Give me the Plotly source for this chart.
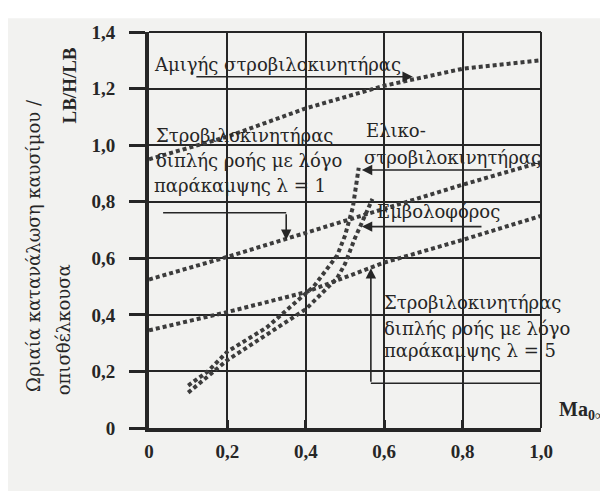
import plotly.graph_objects as go

# ---- data ----
x_turbojet = [0.0, 0.2, 0.4, 0.6, 0.8, 1.0]
y_turbojet = [0.95, 1.03, 1.13, 1.21, 1.27, 1.30]

x_fan1 = [0.0, 0.2, 0.4, 0.6, 0.8, 1.0]
y_fan1 = [0.525, 0.605, 0.69, 0.775, 0.86, 0.94]

x_fan5 = [0.0, 0.2, 0.4, 0.6, 0.8, 1.0]
y_fan5 = [0.345, 0.41, 0.48, 0.585, 0.665, 0.75]

x_turboprop = [0.10, 0.15, 0.20, 0.30, 0.42, 0.48, 0.50, 0.52, 0.535]
y_turboprop = [0.15, 0.20, 0.27, 0.355, 0.50, 0.61, 0.68, 0.78, 0.92]

x_piston = [0.10, 0.20, 0.30, 0.40, 0.48, 0.50, 0.525, 0.545, 0.57]
y_piston = [0.125, 0.24, 0.33, 0.42, 0.53, 0.58, 0.67, 0.73, 0.81]

x_tickvals = [0.0, 0.2, 0.4, 0.6, 0.8, 1.0]
x_ticktext = ["0", "0,2", "0,4", "0,6", "0,8", "1,0"]
y_tickvals = [0.0, 0.2, 0.4, 0.6, 0.8, 1.0, 1.2, 1.4]
y_ticktext = ["0", "0,2", "0,4", "0,6", "0,8", "1,0", "1,2", "1,4"]

# ---- style ----
INK = "#262626"
DOT = "#3c3c3c"
SERIF = "Liberation Serif"
GREEK = "DejaVu Serif"
BG = "#f2f2f0"

fig = go.Figure()
series = [
    ("Αμιγής στροβιλοκινητήρας", x_turbojet, y_turbojet),
    ("Στροβιλοκινητήρας διπλής ροής λ = 1", x_fan1, y_fan1),
    ("Στροβιλοκινητήρας διπλής ροής λ = 5", x_fan5, y_fan5),
    ("Ελικοστροβιλοκινητήρας", x_turboprop, y_turboprop),
    ("Εμβολοφόρος", x_piston, y_piston),
]
for name, xs, ys in series:
    fig.add_trace(go.Scatter(x=xs, y=ys, mode="lines", name=name,
                             line=dict(color=DOT, width=4, dash="4px,3px"),
                             showlegend=False, hoverinfo="skip"))

txt = dict(family=GREEK, size=18, color=INK)

def label(text, x, y):
    fig.add_annotation(x=x, y=y, xref="x", yref="y", text=text, showarrow=False,
                       xanchor="left", yanchor="middle", font=txt)

def arrow(x0, y0, x1, y1):
    fig.add_annotation(x=x1, y=y1, ax=x0, ay=y0, xref="x", yref="y",
                       axref="x", ayref="y", text="", showarrow=True,
                       arrowhead=2, arrowsize=1.3, arrowwidth=1.6, arrowcolor=INK)

def seg(x0, y0, x1, y1):
    fig.add_shape(type="line", x0=x0, y0=y0, x1=x1, y1=y1, xref="x", yref="y",
                  line=dict(color=INK, width=1.6))

# pure turbojet
label("Αμιγής στροβιλοκινητήρας", 0.008, 1.284)
arrow(0.117, 1.242, 0.673, 1.242)

# turbofan lambda = 1
label("Στροβιλοκινητήρας", 0.012, 1.035)
label("διπλής ροής με λόγο", 0.012, 0.947)
label("παράκαμψης λ = 1", 0.008, 0.858)
seg(0.036, 0.761, 0.35, 0.761)
arrow(0.35, 0.761, 0.35, 0.665)

# turboprop
label("Ελικο-", 0.548, 1.053)
label("στροβιλοκινητήρας", 0.543, 0.958)
arrow(0.878, 0.912, 0.543, 0.912)

# piston
label("Εμβολοφόρος", 0.577, 0.765)
arrow(0.852, 0.712, 0.543, 0.712)

# turbofan lambda = 5
label("Στροβιλοκινητήρας", 0.595, 0.442)
label("διπλής ροής με λόγο", 0.595, 0.351)
label("παράκαμψης λ = 5", 0.595, 0.274)
seg(0.566, 0.158, 1.015, 0.158)
arrow(0.566, 0.158, 0.566, 0.565)

# axis titles
fig.add_annotation(xref="paper", yref="paper", x=-0.296, y=0.462, showarrow=False,
                   xanchor="center", yanchor="middle",
                   text="Ωριαία κατανάλωση καυσίμου /", textangle=-90,
                   font=dict(family=GREEK, size=18, color=INK))
fig.add_annotation(xref="paper", yref="paper", x=-0.219, y=0.247, showarrow=False,
                   xanchor="center", yanchor="middle",
                   text="οπισθέλκουσα", textangle=-90,
                   font=dict(family=GREEK, size=18, color=INK))
fig.add_annotation(xref="paper", yref="paper", x=-0.203, y=0.866, showarrow=False,
                   xanchor="center", yanchor="middle",
                   text="LB/H/LB", textangle=-90,
                   font=dict(family=SERIF, size=19, color=INK, weight="bold"))
fig.add_annotation(xref="paper", yref="paper", x=1.042, y=0.045, showarrow=False,
                   xanchor="left", yanchor="middle",
                   text="Ma<sub>0∞</sub>",
                   font=dict(family=SERIF, size=20, color=INK, weight="bold"))

# frame: top and right borders, white scan band at top
fig.add_shape(type="line", xref="paper", yref="paper", x0=0, y0=1, x1=1, y1=1,
              line=dict(color=INK, width=2))
fig.add_shape(type="line", xref="paper", yref="paper", x0=1, y0=0, x1=1, y1=1,
              line=dict(color=INK, width=2))
fig.add_shape(type="rect", xref="paper", yref="paper", x0=-0.5, x1=1.3,
              y0=1.035, y1=1.2, fillcolor="white", line=dict(width=0), layer="below")

tickfont = dict(family=SERIF, size=19, color=INK, weight="bold")
fig.update_xaxes(range=[0, 1.0], tickvals=x_tickvals, ticktext=x_ticktext,
                 showgrid=True, gridcolor=INK, gridwidth=1.5, zeroline=False,
                 showline=True, linecolor=INK, linewidth=4,
                 ticks="inside", ticklen=8, tickwidth=3, tickcolor=INK,
                 tickfont=tickfont, ticklabelstandoff=3)
fig.update_yaxes(range=[0, 1.4], tickvals=y_tickvals, ticktext=y_ticktext,
                 showgrid=True, gridcolor=INK, gridwidth=1.5, zeroline=False,
                 showline=True, linecolor=INK, linewidth=4,
                 ticks="outside", ticklen=16, tickwidth=3, tickcolor=INK,
                 tickfont=tickfont, ticklabelstandoff=10)

# the page body adds an 8px offset, so the figure is 8px smaller
fig.update_layout(width=600, height=483,
                  margin=dict(l=141, r=67, t=24, b=63),
                  paper_bgcolor=BG, plot_bgcolor=BG, showlegend=False)

fig.write_html("out.html")
